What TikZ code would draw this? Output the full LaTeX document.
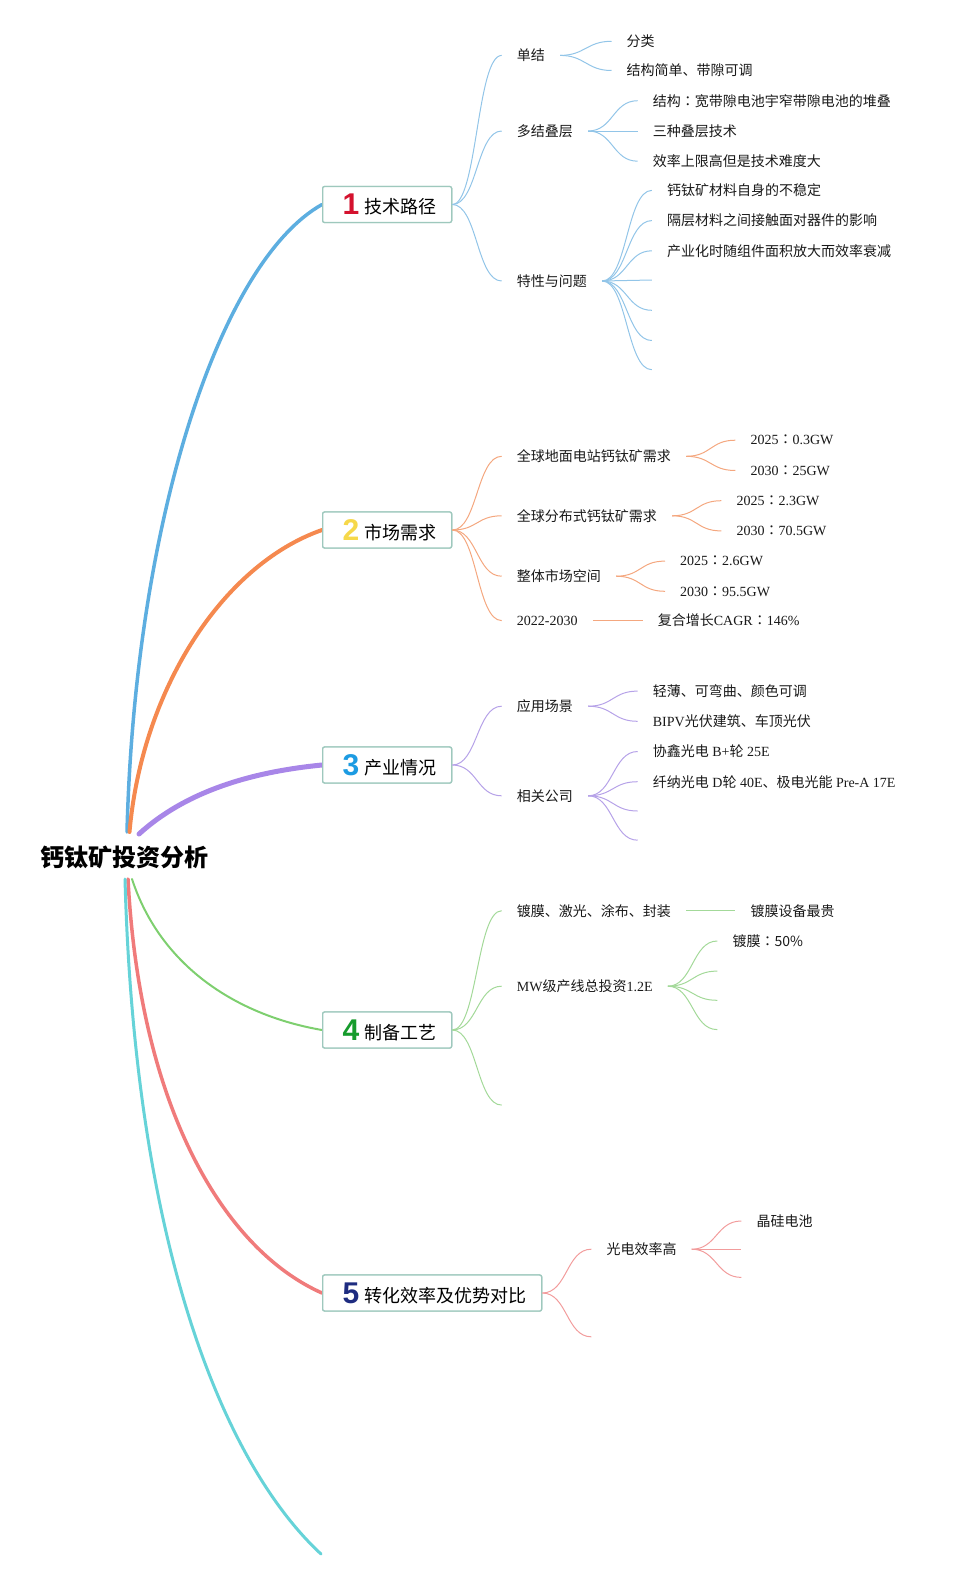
\documentclass[tikz,border=0pt]{standalone}
\usepackage{fontspec}
\setmainfont{Liberation Serif}
\newfontfamily\cjk{Noto Sans CJK SC}
\newfontfamily\cjktc{Noto Sans CJK TC}
\newfontfamily\numf{Liberation Sans}
\newcommand\lat[1]{{\rmfamily #1}}
\newcommand\zc{{\cjktc ：}}
\definecolor{cblue}{HTML}{5DAEE0}
\definecolor{cblueL}{HTML}{92C5E8}
\definecolor{corange}{HTML}{F5894F}
\definecolor{corangeL}{HTML}{F4A77F}
\definecolor{cpurple}{HTML}{A886E8}
\definecolor{cpurpleL}{HTML}{B6A2E8}
\definecolor{cgreen}{HTML}{7ECF6F}
\definecolor{cgreenL}{HTML}{A3D999}
\definecolor{cred}{HTML}{F07B7B}
\definecolor{credL}{HTML}{F29C9C}
\definecolor{ccyan}{HTML}{66D3D8}
\definecolor{boxc}{HTML}{9EC8BD}
\definecolor{n1c}{HTML}{D4122E}
\definecolor{n2c}{HTML}{F6D84A}
\definecolor{n3c}{HTML}{1C9BE2}
\definecolor{n4c}{HTML}{169B2C}
\definecolor{n5c}{HTML}{1E2C80}
\newcommand\boxtxt[3]{\kern20pt\makebox[22pt][l]{\raisebox{-1pt}{\numf\bfseries\fontsize{30pt}{30pt}\selectfont\color{#1}#2}}{\cjk\fontsize{18pt}{20pt}\selectfont #3}\kern15pt}
\tikzset{
  box/.style={draw=boxc, line width=1.3pt, fill=white, rounded corners=2pt, minimum height=36pt, inner sep=0pt, anchor=west},
  lbl/.style={anchor=west, inner xsep=15pt, inner ysep=2pt, font=\cjk\fontsize{14pt}{16pt}\selectfont, text=black!90},
  mainline/.style={line cap=round},
  cb/.style={draw=cblueL, line width=1pt},
  co/.style={draw=corangeL, line width=1pt},
  cp/.style={draw=cpurpleL, line width=1pt},
  cg/.style={draw=cgreenL, line width=1pt},
  cr/.style={draw=credL, line width=1pt},
}
\begin{document}
\begin{tikzpicture}[x=1pt,y=-1pt]
\useasboundingbox (0,0) rectangle (955,1579);
% root
\node[font=\cjk\bfseries\fontsize{24pt}{26pt}\selectfont] (root) at (124.5,857.5) {钙钛矿投资分析};
\coordinate (r1) at (127,832);
\coordinate (r2) at (129.5,832);
\coordinate (r3) at (139,834);
\coordinate (r4) at (132,879);
\coordinate (r5) at (128,879);
\coordinate (r6) at (125,879);
\coordinate (cyanend) at (321,1554);
% boxes
\node[box] (b1) at (322,204.5) {\boxtxt{n1c}{1}{技术路径}};
\node[box] (b2) at (322,530) {\boxtxt{n2c}{2}{市场需求}};
\node[box] (b3) at (322,765) {\boxtxt{n3c}{3}{产业情况}};
\node[box] (b4) at (322,1030) {\boxtxt{n4c}{4}{制备工艺}};
\node[box] (b5) at (322,1293) {\boxtxt{n5c}{5}{转化效率及优势对比}};
% main branches
\draw[mainline, cblue, line width=3.5pt] (r1) .. controls (135,520) and (220,262) .. (b1.west);
\draw[mainline, corange, line width=4pt] (r2) .. controls (142,690) and (222,565) .. (b2.west);
\draw[mainline, cpurple, line width=5pt] (r3) .. controls (185,792) and (250,772) .. (b3.west);
\draw[mainline, cgreen, line width=2pt] (r4) .. controls (160,965) and (235,1015) .. (b4.west);
\draw[mainline, cred, line width=3.5pt] (r5) .. controls (140,1110) and (225,1250) .. (b5.west);
\draw[mainline, ccyan, line width=3pt] (r6) .. controls (135,1250) and (225,1465) .. (cyanend);
% redraw boxes on top
\node[box] at (322,204.5) {\boxtxt{n1c}{1}{技术路径}};
\node[box] at (322,530) {\boxtxt{n2c}{2}{市场需求}};
\node[box] at (322,765) {\boxtxt{n3c}{3}{产业情况}};
\node[box] at (322,1030) {\boxtxt{n4c}{4}{制备工艺}};
\node[box] at (322,1293) {\boxtxt{n5c}{5}{转化效率及优势对比}};

% ===== Branch 1 =====
\node[lbl] (n11) at (501.7,55.4) {单结};
\node[lbl] (n12) at (501.7,131) {多结叠层};
\node[lbl] (n13) at (501.7,281) {特性与问题};
\node[lbl] (n111) at (611.5,41.3) {分类};
\node[lbl] (n112) at (611.5,70.5) {结构简单、带隙可调};
\node[lbl] (n121) at (637.7,100.7) {结构\zc 宽带隙电池宇窄带隙电池的堆叠};
\node[lbl] (n122) at (637.7,131) {三种叠层技术};
\node[lbl] (n123) at (637.7,161.2) {效率上限高但是技术难度大};
\node[lbl] (n131) at (651.8,190.4) {钙钛矿材料自身的不稳定};
\node[lbl] (n132) at (651.8,220.6) {隔层材料之间接触面对器件的影响};
\node[lbl] (n133) at (651.8,250.8) {产业化时随组件面积放大而效率衰减};
\coordinate (n134) at (651.8,280);
\coordinate (n135) at (651.8,310.3);
\coordinate (n136) at (651.8,340.5);
\coordinate (n137) at (651.8,369.7);
\foreach \t in {n11,n12,n13}
  \draw[cb] (b1.east) .. controls +(25,0) and +(-25,0) .. (\t.west);
\foreach \t in {n111,n112}
  \draw[cb] (n11.east) .. controls +(25,0) and +(-25,0) .. (\t.west);
\foreach \t in {n121,n122,n123}
  \draw[cb] (n12.east) .. controls +(25,0) and +(-25,0) .. (\t.west);
\foreach \t in {n131,n132,n133}
  \draw[cb] (n13.east) .. controls +(25,0) and +(-25,0) .. (\t.west);
\foreach \t in {n134,n135,n136,n137}
  \draw[cb] (n13.east) .. controls +(25,0) and +(-25,0) .. (\t);

% ===== Branch 2 =====
\node[lbl] (n21) at (501.7,456.3) {全球地面电站钙钛矿需求};
\node[lbl] (n22) at (501.7,515.8) {全球分布式钙钛矿需求};
\node[lbl] (n23) at (501.7,576.2) {整体市场空间};
\node[lbl] (n24) at (501.7,620.6) {\lat{2022-2030}};
\node[lbl] (n211) at (735.4,440.2) {\lat{2025}\zc\lat{0.3GW}};
\node[lbl] (n212) at (735.4,470.5) {\lat{2030}\zc\lat{25GW}};
\node[lbl] (n221) at (721.3,500.7) {\lat{2025}\zc\lat{2.3GW}};
\node[lbl] (n222) at (721.3,530.9) {\lat{2030}\zc\lat{70.5GW}};
\node[lbl] (n231) at (665,561.1) {\lat{2025}\zc\lat{2.6GW}};
\node[lbl] (n232) at (665,591.3) {\lat{2030}\zc\lat{95.5GW}};
\node[lbl] (n241) at (642.7,620.6) {复合增长\lat{CAGR}\zc\lat{146\%}};
\foreach \t in {n21,n22,n23,n24}
  \draw[co] (b2.east) .. controls +(25,0) and +(-25,0) .. (\t.west);
\foreach \t in {n211,n212}
  \draw[co] (n21.east) .. controls +(25,0) and +(-25,0) .. (\t.west);
\foreach \t in {n221,n222}
  \draw[co] (n22.east) .. controls +(25,0) and +(-25,0) .. (\t.west);
\foreach \t in {n231,n232}
  \draw[co] (n23.east) .. controls +(25,0) and +(-25,0) .. (\t.west);
\draw[co] (n24.east) -- (n241.west);

% ===== Branch 3 =====
\node[lbl] (n31) at (501.7,706.2) {应用场景};
\node[lbl] (n32) at (501.7,795.8) {相关公司};
\node[lbl] (n311) at (637.7,691.1) {轻薄、可弯曲、颜色可调};
\node[lbl] (n312) at (637.7,721.3) {\lat{BIPV}光伏建筑、车顶光伏};
\node[lbl] (n321) at (637.7,751.5) {协鑫光电\lat{ B+}轮\lat{ 25E}};
\node[lbl] (n322) at (637.7,781.7) {纤纳光电\lat{ D}轮\lat{ 40E}、极电光能\lat{ Pre-A 17E}};
\coordinate (n323) at (637.7,811);
\coordinate (n324) at (637.7,840.2);
\foreach \t in {n31,n32}
  \draw[cp] (b3.east) .. controls +(25,0) and +(-25,0) .. (\t.west);
\foreach \t in {n311,n312}
  \draw[cp] (n31.east) .. controls +(25,0) and +(-25,0) .. (\t.west);
\foreach \t in {n321,n322}
  \draw[cp] (n32.east) .. controls +(25,0) and +(-25,0) .. (\t.west);
\foreach \t in {n323,n324}
  \draw[cp] (n32.east) .. controls +(25,0) and +(-25,0) .. (\t);

% ===== Branch 4 =====
\node[lbl] (n41) at (501.7,910.7) {镀膜、激光、涂布、封装};
\node[lbl] (n42) at (501.7,986.2) {\lat{MW}级产线总投资\lat{1.2E}};
\coordinate (n43) at (501.7,1105.1);
\node[lbl] (n411) at (735.4,910.7) {镀膜设备最贵};
\node[lbl] (n421) at (717.3,941) {镀膜\zc 50\%};
\coordinate (n422) at (717.3,971.1);
\coordinate (n423) at (717.3,1000.3);
\coordinate (n424) at (717.3,1029.6);
\foreach \t in {n41,n42}
  \draw[cg] (b4.east) .. controls +(25,0) and +(-25,0) .. (\t.west);
\draw[cg] (b4.east) .. controls +(25,0) and +(-25,0) .. (n43);
\draw[cg] (n41.east) -- (n411.west);
\draw[cg] (n42.east) .. controls +(25,0) and +(-25,0) .. (n421.west);
\foreach \t in {n422,n423,n424}
  \draw[cg] (n42.east) .. controls +(25,0) and +(-25,0) .. (\t);

% ===== Branch 5 =====
\node[lbl] (n51) at (591.3,1249.2) {光电效率高};
\coordinate (n52) at (591.3,1336.8);
\node[lbl] (n511) at (741.4,1221) {晶硅电池};
\coordinate (n512) at (741.4,1249.2);
\coordinate (n513) at (741.4,1277.4);
\draw[cr] (b5.east) .. controls +(25,0) and +(-25,0) .. (n51.west);
\draw[cr] (b5.east) .. controls +(25,0) and +(-25,0) .. (n52);
\draw[cr] (n51.east) .. controls +(25,0) and +(-25,0) .. (n511.west);
\foreach \t in {n512,n513}
  \draw[cr] (n51.east) .. controls +(25,0) and +(-25,0) .. (\t);
\end{tikzpicture}
\end{document}
